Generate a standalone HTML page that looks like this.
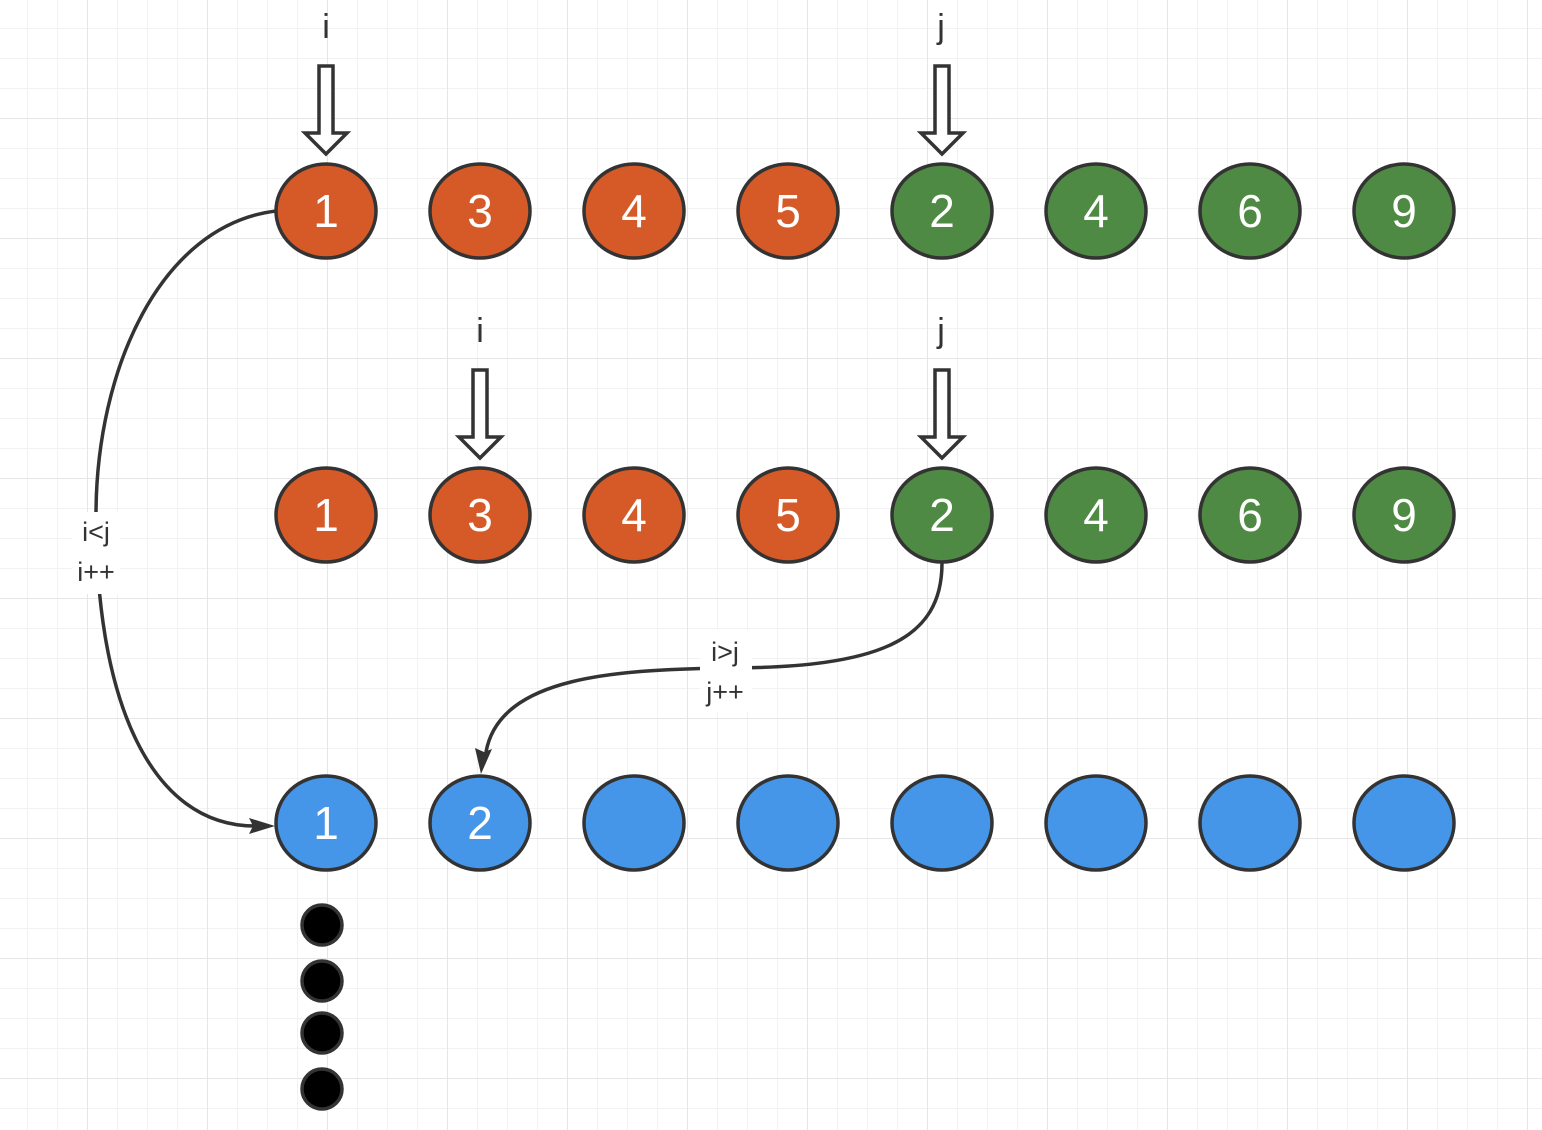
<!DOCTYPE html>
<html><head><style>html,body{margin:0;padding:0;background:#fff}svg{display:block}</style></head>
<body>
<svg width="1542" height="1130" viewBox="0 0 1542 1130" xmlns="http://www.w3.org/2000/svg">
<defs>
<pattern id="mi" x="27" y="28" width="30" height="30" patternUnits="userSpaceOnUse">
<path d="M0 0H30M0 0V30" stroke="#f2f2f2" stroke-width="2" fill="none"/></pattern>
<pattern id="ma" x="87" y="118" width="120" height="120" patternUnits="userSpaceOnUse">
<path d="M0 0H120M0 0V120" stroke="#e6e6e6" stroke-width="2" fill="none"/></pattern>
</defs>
<rect width="1542" height="1130" fill="url(#mi)"/>
<rect width="1542" height="1130" fill="url(#ma)"/>

<g font-family="Liberation Sans, sans-serif" fill="#333" font-size="34" text-anchor="middle">
<text x="326" y="38">i</text><text x="941" y="38">j</text>
<text x="480" y="342">i</text><text x="941" y="342">j</text>
</g>
<g fill="#fff" stroke="#333" stroke-width="3.5" stroke-linejoin="miter">
<path d="M319 66H333V133H347L326 154L305 133H319Z"/>
<path d="M935 66H949V133H963L942 154L921 133H935Z"/>
<path d="M473 370H487V437H501L480 458L459 437H473Z"/>
<path d="M935 370H949V437H963L942 458L921 437H935Z"/>
</g>

<g fill="none" stroke="#333" stroke-width="3.5">
<path d="M276 211C160 225 96 370 96 515C96 700 150 826 255 826"/>
<path d="M942 563C942 640 880 668 725 668C620 670 500 675 486 752"/>
</g>
<g fill="#333">
<path d="M275 826L249 834L253 826L249 818Z"/>
<path d="M481 774L475 748L484 752L492 749Z"/>
</g>
<rect x="72" y="512" width="48" height="82" fill="#fff"/>
<rect x="700" y="630" width="52" height="82" fill="#fff"/>
<g font-family="Liberation Sans, sans-serif" fill="#333" font-size="27" text-anchor="middle">
<text x="96" y="541">i&lt;j</text><text x="96" y="581">i++</text>
<text x="725" y="661">i&gt;j</text><text x="725" y="701">j++</text>
</g>

<g stroke="#333" stroke-width="3.5">
<g fill="#D55A27">
<ellipse cx="326" cy="211" rx="50" ry="47"/><ellipse cx="480" cy="211" rx="50" ry="47"/><ellipse cx="634" cy="211" rx="50" ry="47"/><ellipse cx="788" cy="211" rx="50" ry="47"/>
<ellipse cx="326" cy="515" rx="50" ry="47"/><ellipse cx="480" cy="515" rx="50" ry="47"/><ellipse cx="634" cy="515" rx="50" ry="47"/><ellipse cx="788" cy="515" rx="50" ry="47"/>
</g>
<g fill="#4E8A43">
<ellipse cx="942" cy="211" rx="50" ry="47"/><ellipse cx="1096" cy="211" rx="50" ry="47"/><ellipse cx="1250" cy="211" rx="50" ry="47"/><ellipse cx="1404" cy="211" rx="50" ry="47"/>
<ellipse cx="942" cy="515" rx="50" ry="47"/><ellipse cx="1096" cy="515" rx="50" ry="47"/><ellipse cx="1250" cy="515" rx="50" ry="47"/><ellipse cx="1404" cy="515" rx="50" ry="47"/>
</g>
<g fill="#4596E8">
<ellipse cx="326" cy="823" rx="50" ry="47"/><ellipse cx="480" cy="823" rx="50" ry="47"/><ellipse cx="634" cy="823" rx="50" ry="47"/><ellipse cx="788" cy="823" rx="50" ry="47"/>
<ellipse cx="942" cy="823" rx="50" ry="47"/><ellipse cx="1096" cy="823" rx="50" ry="47"/><ellipse cx="1250" cy="823" rx="50" ry="47"/><ellipse cx="1404" cy="823" rx="50" ry="47"/>
</g>
<g fill="#000">
<circle cx="322" cy="925" r="20"/><circle cx="322" cy="981" r="20"/><circle cx="322" cy="1033" r="20"/><circle cx="322" cy="1089" r="20"/>
</g>
</g>

<g font-family="Liberation Sans, sans-serif" fill="#fff" font-size="46" text-anchor="middle">
<text x="326" y="227">1</text><text x="480" y="227">3</text><text x="634" y="227">4</text><text x="788" y="227">5</text>
<text x="942" y="227">2</text><text x="1096" y="227">4</text><text x="1250" y="227">6</text><text x="1404" y="227">9</text>
<text x="326" y="531">1</text><text x="480" y="531">3</text><text x="634" y="531">4</text><text x="788" y="531">5</text>
<text x="942" y="531">2</text><text x="1096" y="531">4</text><text x="1250" y="531">6</text><text x="1404" y="531">9</text>
<text x="326" y="839">1</text><text x="480" y="839">2</text>
</g>
</svg>
</body></html>
